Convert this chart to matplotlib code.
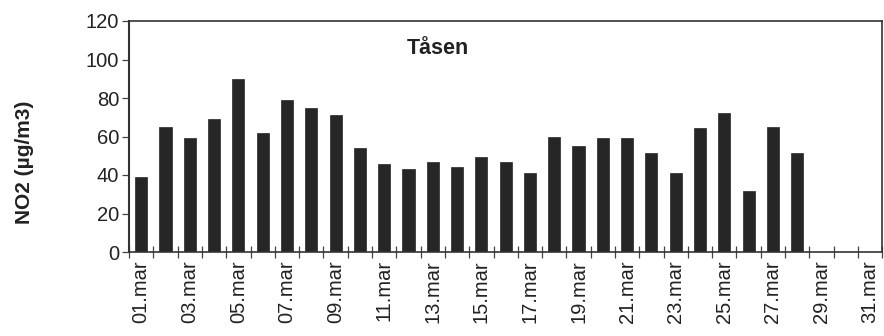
import matplotlib
matplotlib.use("Agg")
import matplotlib.pyplot as plt
import numpy as np

plt.rcParams['font.family'] = ['Liberation Sans', 'DejaVu Sans']

# Daily NO2 means at Tåsen, March (29-31 without data)
days = [f"{d:02d}.mar" for d in range(1, 32)]
no2 = [39, 65, 59, 69, 90, 62, 79, 75, 71, 54, 45.5, 43, 46.5, 44, 49.5, 46.5,
       41, 60, 55, 59, 59, 51.5, 41, 64.5, 72, 31.5, 65, 51.5]
station = "Tåsen"
y_ticks = [0, 20, 40, 60, 80, 100, 120]

fig = plt.figure(figsize=(8.84, 3.36), dpi=100)
ax = fig.add_axes([0.146, 0.25, 0.852, 0.6875])

x = np.arange(len(days))
ax.bar(x[:len(no2)], no2, width=0.5, color="#262626", edgecolor="#262626", linewidth=0.5)

ax.set_xlim(-0.5, len(days) - 0.5)
ax.set_ylim(0, 120)
ax.set_yticks(y_ticks)
ax.set_yticklabels([str(v) for v in y_ticks], fontsize=14.5, color="#222222")

# category boundaries carry the tick marks; labels on every other day
ax.set_xticks(np.arange(len(days) + 1) - 0.5)
ax.set_xticklabels([])
ax.set_xticks(x[::2], minor=True)
ax.set_xticklabels(days[::2], minor=True, rotation=90, fontsize=14.5, color="#222222")
ax.tick_params(axis='x', which='major', direction='inout', length=9, width=0.9, color="#444444")
ax.tick_params(axis='x', which='minor', length=0, pad=6)
ax.tick_params(axis='y', direction='out', length=5, width=0.9, color="#444444", pad=2)

for side in ['left', 'right', 'top', 'bottom']:
    ax.spines[side].set_color("#333333")
    ax.spines[side].set_linewidth(1.2)
ax.spines['left'].set_linewidth(1.5)

ax.text(0.41, 0.88, station, transform=ax.transAxes, ha='center', va='center',
        fontsize=15.5, fontweight='bold', color="#222222")
fig.text(24 / 884, 1 - 162 / 336, "NO2 (µg/m3)", rotation=90, ha='center', va='center',
         fontsize=15, fontweight='bold', color="#222222")

fig.savefig("out.png", dpi=100)
